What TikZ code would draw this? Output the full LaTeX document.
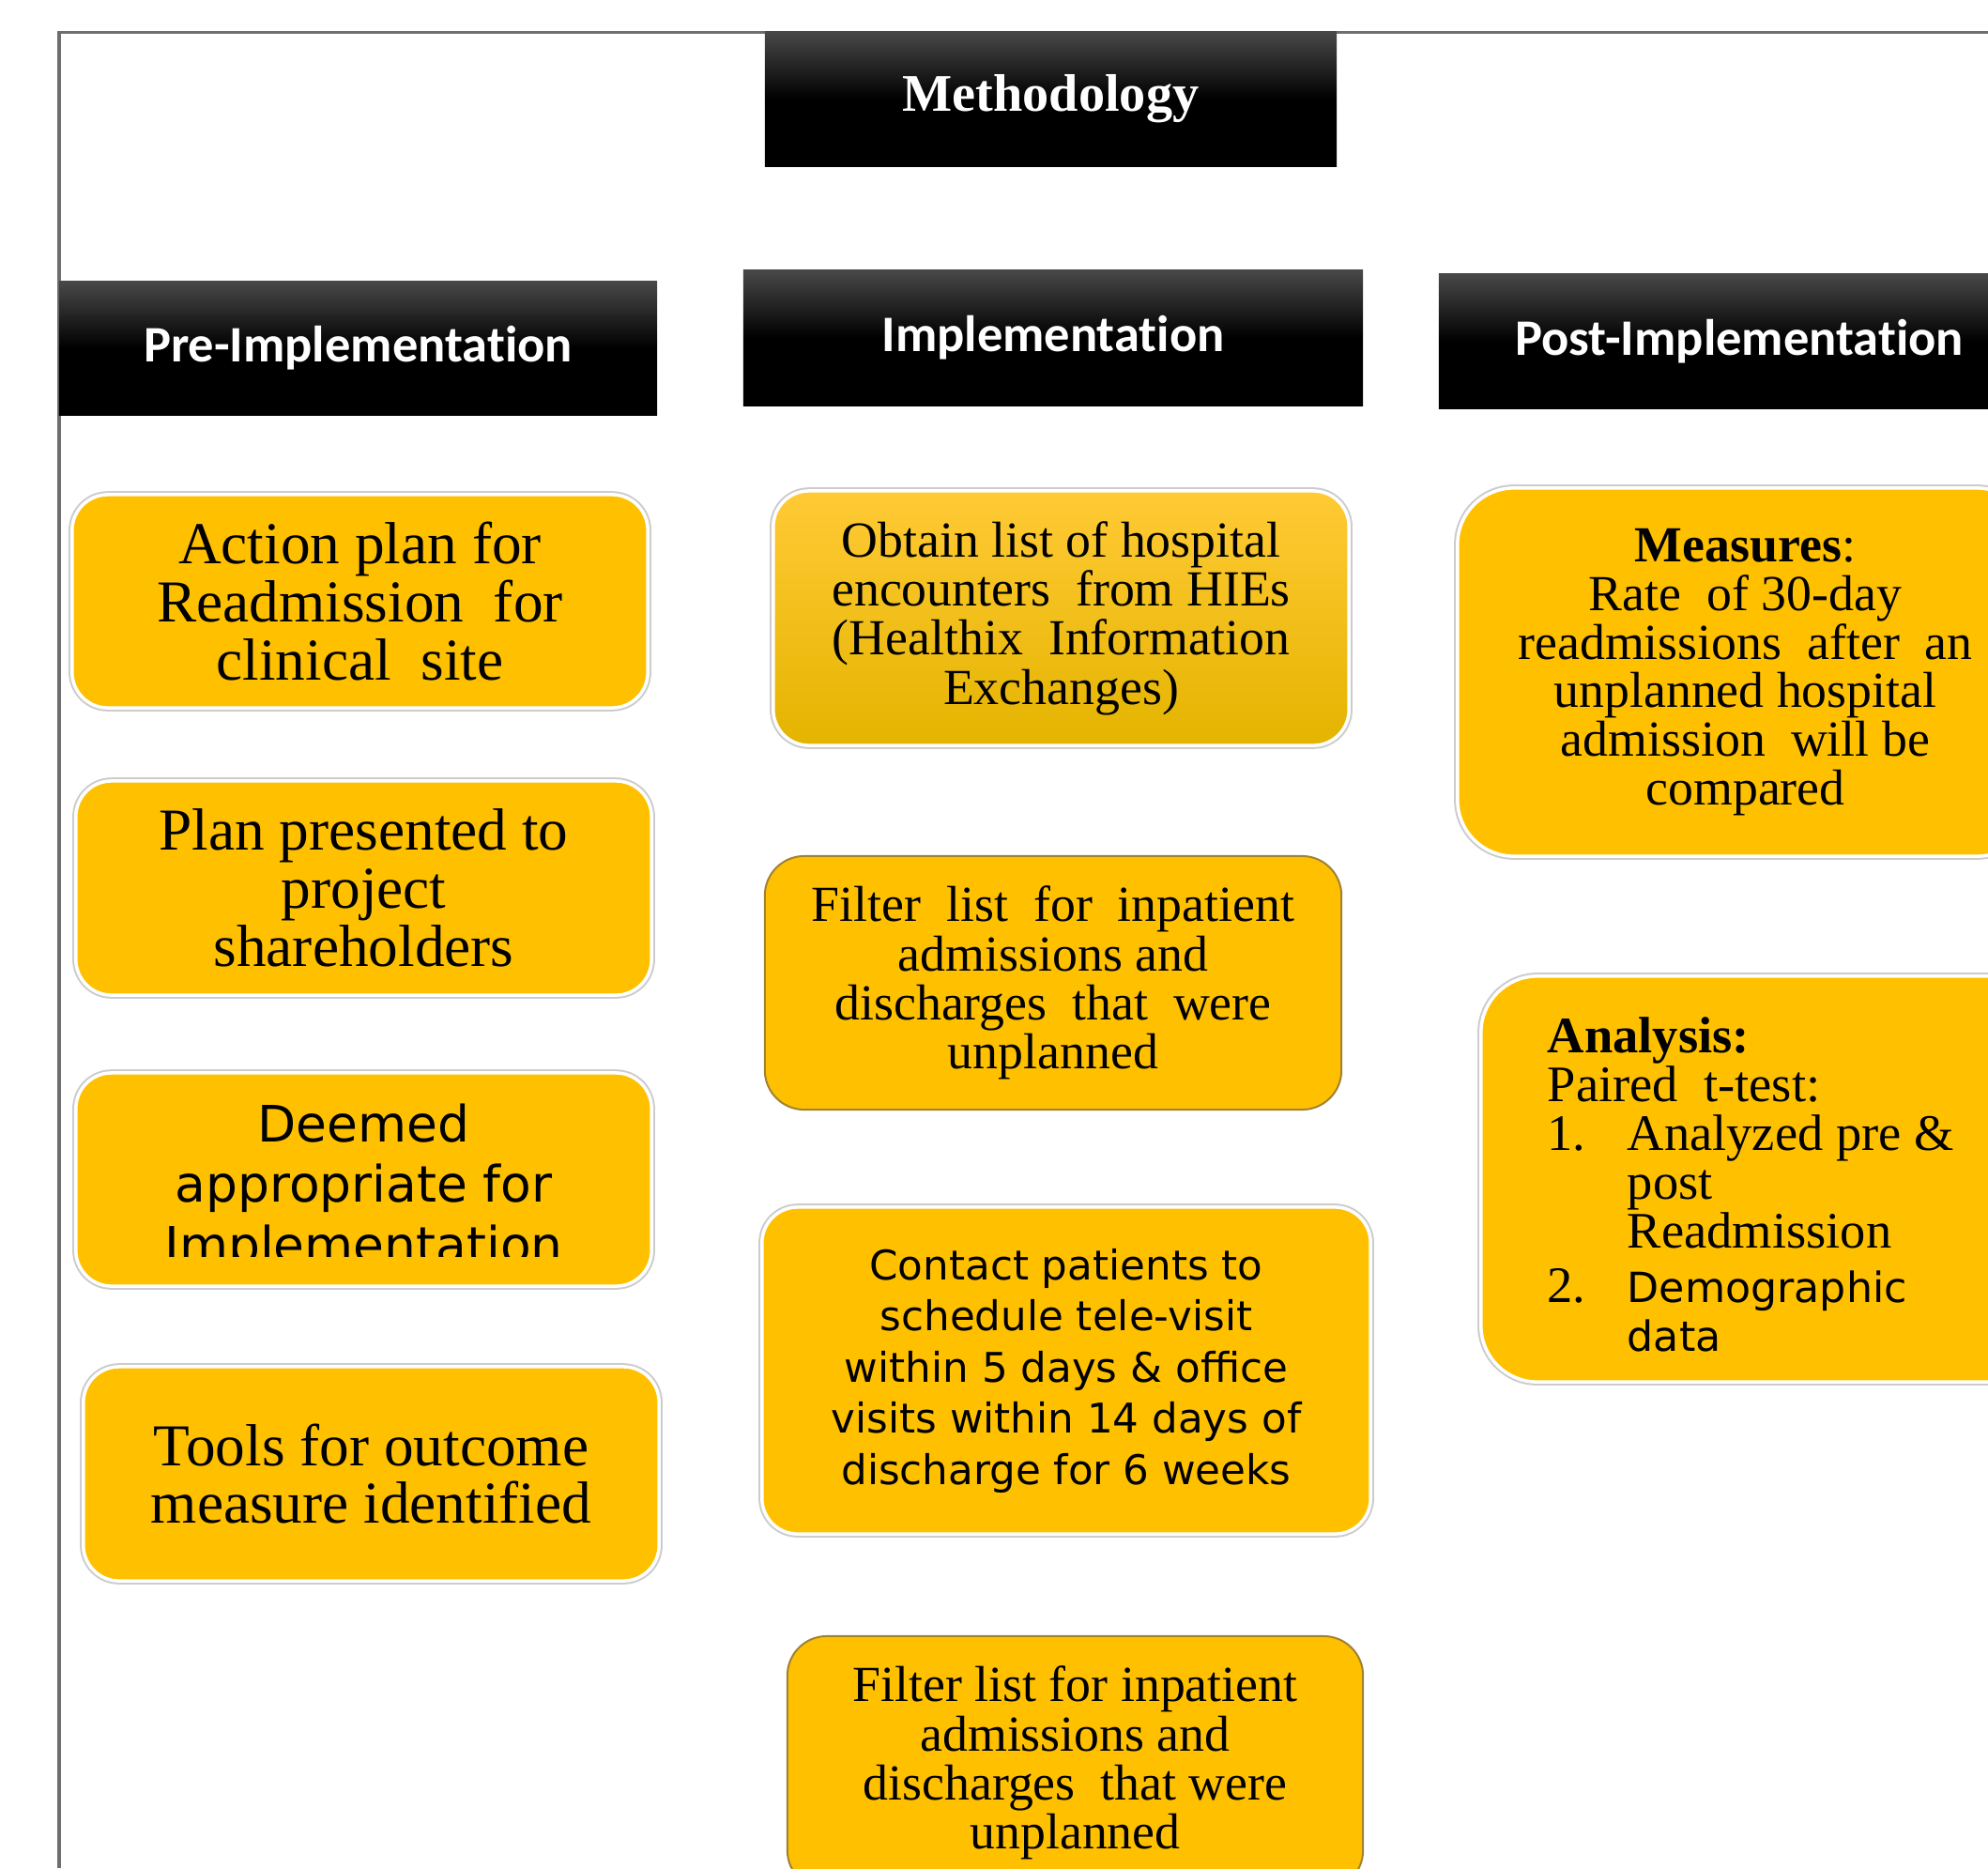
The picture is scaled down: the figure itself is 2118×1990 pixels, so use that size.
\documentclass[tikz,border=0pt]{standalone}
\usepackage{fontspec}
\setmainfont{Liberation Serif}
\newfontfamily\hdfont[Ligatures=NoCommon]{Carlito}
\newfontfamily\vfont{DejaVu Sans}
\definecolor{gold}{HTML}{FFC000}
\definecolor{goldtop}{HTML}{FFCA35}
\definecolor{golddark}{HTML}{E4B400}
\definecolor{goldline}{HTML}{A08232}
\definecolor{headgray}{HTML}{484848}
\definecolor{framegray}{HTML}{6E6E6E}
\begin{document}
\begin{tikzpicture}[x=0.01cm,y=-0.01cm]
\tikzstyle{every node}+=[inner sep=0pt]
\tikzstyle{head}=[rectangle, top color=headgray, bottom color=black, middle color=black, text=white, font=\hdfont\bfseries\fontsize{15.5}{18}\selectfont]
\tikzstyle{card}=[rectangle, rounded corners=0.38cm, fill=gold, draw=white, line width=0.035cm, preaction={draw=black!20, line width=0.075cm}, align=center]
\tikzstyle{flatcard}=[rectangle, rounded corners=0.42cm, fill=gold, draw=goldline, line width=0.02cm, align=center]
\tikzstyle{serifbig}=[font=\fontsize{18}{17.6}\selectfont]
\tikzstyle{serifmid}=[font=\fontsize{15.3}{14.9}\selectfont]
\tikzstyle{sansmid}=[font=\vfont\fontsize{12.4}{15.5}\selectfont]
\clip (0,0) rectangle (2118,1990);
\fill[white] (0,0) rectangle (2118,1990);
% frame
\draw[framegray, line width=0.03cm] (63,1990) -- (63,34) -- (2118,34);
% headings
\node[head, minimum width=6.09cm, minimum height=1.43cm, font=\bfseries\fontsize{16}{18}\selectfont] (meth) at (1119.5,105.5) {Methodology};
\node[head, minimum width=6.37cm, minimum height=1.42cm] (pre) at (381.5,371) {Pre-Implementation};
\node[head, minimum width=6.60cm, minimum height=1.44cm] (impl) at (1122,360) {Implementation};
\node[head, minimum width=6.40cm, minimum height=1.43cm] (post) at (1853,363.5) {Post-Implementation};
% pre-implementation column
\node[card, serifbig, minimum width=6.13cm, minimum height=2.27cm] (plan) at (383.5,640.5) {Action plan for\\Readmission\ \ for\\clinical\ \ site};
\node[card, serifbig, minimum width=6.13cm, minimum height=2.28cm] (present) at (387.5,946) {Plan presented\ to\\project\\shareholders};
\node[card, minimum width=6.13cm, minimum height=2.27cm] (deemed) at (387.5,1256.5) {};
\begin{scope}
\clip (81,1143) rectangle (694,1338);
\node[align=center, font=\vfont\fontsize{15.2}{18.3}\selectfont] (deemedtxt) at (387.5,1266) {Deemed\\appropriate for\\Implementation};
\end{scope}
\node[card, serifbig, minimum width=6.13cm, minimum height=2.28cm] (tools) at (395.5,1570) {Tools for outcome\\measure identified};
% implementation column
\node[card, serifmid, minimum width=6.13cm, minimum height=2.71cm, top color=goldtop, bottom color=golddark] (obtain) at (1130.5,658.5) {Obtain\ list of hospital\\encounters\ \ from HIEs\\(Healthix\ \ Information\\Exchanges)};
\node[flatcard, serifmid, minimum width=6.14cm, minimum height=2.70cm] (filter) at (1122,1047) {Filter\ \ list\ \ for\ \ inpatient\\admissions\ and\\discharges\ \ that\ \ were\\unplanned};
\node[card, sansmid, minimum width=6.48cm, minimum height=3.48cm] (contact) at (1136,1460) {Contact patients to\\schedule tele-visit\\within 5 days \& office\\visits within 14 days of\\discharge for 6 weeks};
\node[flatcard, serifmid, minimum width=6.13cm, minimum height=2.70cm] (filterb) at (1145.5,1878) {Filter list for inpatient\\admissions and\\discharges\ \ that were\\unplanned};
% post-implementation column
\node[card, serifmid, rounded corners=0.6cm, minimum width=6.13cm, minimum height=3.92cm, font=\fontsize{15.3}{14.7}\selectfont] (measures) at (1859.5,716) {\textbf{Measures}:\\Rate\ \ of 30-day\\readmissions\ \ after\ \ an\\unplanned\ hospital\\admission\ \ will be\\compared};
\node[card, rounded corners=0.6cm, minimum width=6.13cm, minimum height=4.32cm] (analysis) at (1884.5,1256) {};
\node[anchor=west, align=left, font=\fontsize{15.5}{14.8}\selectfont] (analysistxt) at (1648,1262) {\textbf{Analysis:}\\Paired\ \ t-test:\\\makebox[0.85cm][l]{1.}Analyzed pre \&\\\hspace*{0.85cm}post\\\hspace*{0.85cm}Readmission\\[0.06cm]\makebox[0.85cm][l]{2.}{\vfont\fontsize{12.6}{14.8}\selectfont Demographic}\\\hspace*{0.85cm}{\vfont\fontsize{12.6}{14.8}\selectfont data}};
\end{tikzpicture}
\end{document}
